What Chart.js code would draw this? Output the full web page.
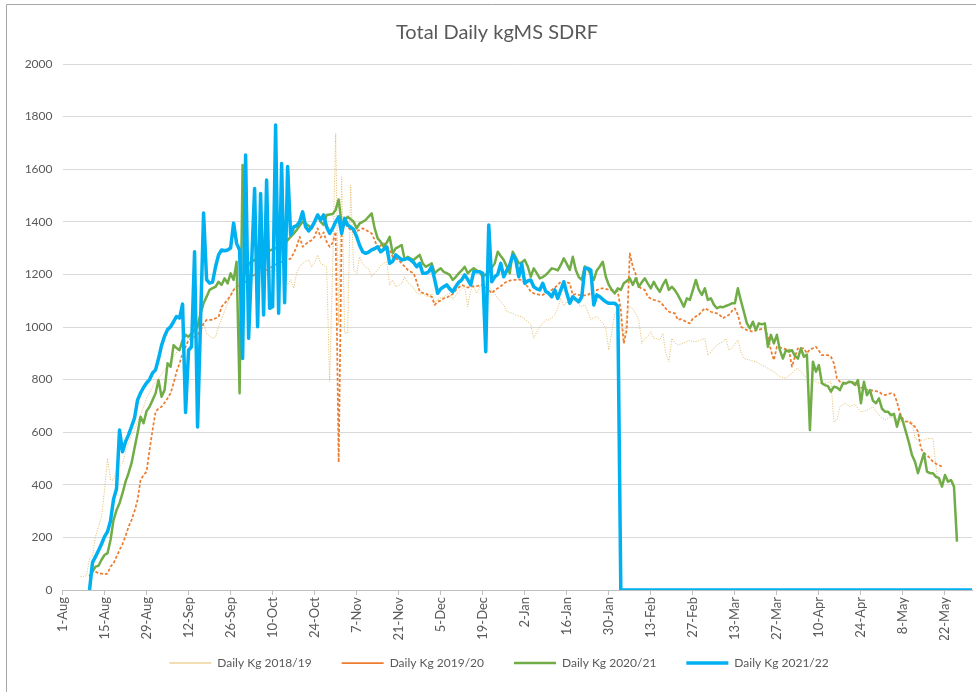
<!DOCTYPE html>
<html>
<head>
<meta charset="utf-8">
<title>Total Daily kgMS SDRF</title>
<script src="https://cdn.jsdelivr.net/npm/chart.js@4.4.1/dist/chart.umd.min.js"></script>
<style>
  html, body { margin: 0; padding: 0; background: #ffffff; }
  #wrap { width: 976px; height: 693px; }
</style>
</head>
<body>
<div id="wrap"><canvas id="kgChart" width="976" height="693"></canvas></div>
<script>
// x = days since 1-Aug, tick every 14 days
const tickLabels = ["1-Aug", "15-Aug", "29-Aug", "12-Sep", "26-Sep", "10-Oct", "24-Oct", "7-Nov", "21-Nov",
    "5-Dec", "19-Dec", "2-Jan", "16-Jan", "30-Jan", "13-Feb", "27-Feb", "13-Mar", "27-Mar", "10-Apr",
    "24-Apr", "8-May", "22-May"];
const seriesNames = ["Daily Kg 2018/19", "Daily Kg 2019/20", "Daily Kg 2020/21", "Daily Kg 2021/22"];

// --- 2018/19 ---
const days1819 = [6,7,8,9,10,11,12,13,14,15,16,17,18,19,20,21,22,23,24,25,26,27,28,29,30,31,33,36,39,42,45,47,48,50,51,52,54,56,58,60,63,66,69,72,74,75,76,77,78,79,80,81,82,83,84,85,86,87,88,89,90,91,92,93,94,95,96,97,98,99,100,101,102,103,104,105,106,107,108,109,110,111,112,113,114,115,116,117,118,119,120,121,122,123,124,125,126,127,128,129,130,131,132,133,134,135,136,137,138,139,140,141,142,143,144,145,146,147,148,149,150,151,152,153,154,155,156,157,158,159,160,161,162,163,164,165,166,167,168,169,170,171,172,173,174,175,176,177,178,179,180,181,182,184,185,186,187,188,189,190,191,192,193,194,195,196,197,198,199,200,201,202,203,204,205,206,207,208,209,210,211,212,213,214,215,216,217,218,219,220,221,222,223,224,225,226,227,228,229,230,231,232,233,234,235,236,237,238,239,240,241,242,243,244,245,246,247,248,249,250,251,252,253,254,255,256,257,258,259,260,261,262,263,264,265,266,267,268,269,270,271,272,273,274,275,276,277,278,279,280,281,282,283,284,285,286,287,288,289,290,291,292];
const kg1819 = [51,51,55,120,130,203,241,279,380,501,418,418,456,470,482,526,560,590,608,640,665,697,730,750,773,790,820,870,920,960,990,1014,975,957,963,1001,1060,1120,1160,1180,1200,1180,1210,1220,1190,1160,1180,1147,1204,1230,1242,1250,1255,1229,1245,1274,1242,1235,1229,792,1230,1736,1008,1571,977,976,1540,1217,1204,1267,1240,1229,1220,1191,1205,1217,1235,1242,1248,1160,1179,1153,1158,1165,1191,1170,1160,1147,1128,1125,1128,1118,1115,1128,1090,1105,1110,1115,1122,1128,1105,1120,1134,1145,1153,1077,1140,1153,1128,1150,1166,1160,1153,1140,1128,1110,1095,1084,1060,1055,1052,1045,1042,1039,1030,1020,1010,957,982,1001,1015,1027,1027,1035,1046,1071,1109,1080,1096,1085,1095,1103,1085,1077,1085,1058,1027,1035,1040,1027,1014,995,912,1052,1060,1014,938,1052,1077,1070,1050,1027,938,955,963,982,957,955,950,976,900,868,957,940,931,935,940,945,950,944,945,948,952,957,893,905,919,931,938,944,957,912,920,935,950,906,880,877,874,870,868,862,855,850,843,836,830,820,811,808,805,815,824,836,843,830,817,808,798,795,792,786,786,786,790,792,640,646,697,705,710,697,700,707,690,678,680,684,690,697,680,665,655,646,652,659,655,648,640,640,640,640,640,577,570,570,570,575,577,577,469,399];

// --- 2019/20 ---
const days1920 = [11,12,13,14,15,16,17,18,19,20,21,22,23,24,25,26,27,28,29,30,31,32,33,34,35,36,37,38,39,40,41,42,43,44,45,46,47,48,49,50,51,52,53,54,55,56,57,58,59,60,62,64,66,68,70,72,74,76,77,78,79,80,81,82,83,84,85,86,87,88,89,90,91,92,93,94,95,96,97,98,99,100,101,102,103,104,105,106,107,108,109,110,111,112,113,114,115,116,117,118,119,120,121,122,123,124,125,126,127,128,129,130,131,132,133,134,135,136,137,138,139,140,141,142,143,144,145,146,147,148,149,150,151,152,153,154,155,156,157,158,159,160,161,162,163,164,165,166,167,168,169,170,171,172,173,174,175,176,177,178,179,180,181,182,183,184,185,186,187,188,189,190,191,192,193,194,195,196,197,198,199,200,201,202,203,204,205,206,207,208,209,210,211,212,213,214,215,216,217,218,219,220,221,222,223,224,225,226,227,228,229,230,231,232,233,234,235,236,237,238,239,240,241,242,243,244,245,246,247,248,249,250,251,252,253,254,255,256,257,258,259,260,261,262,263,264,265,266,267,268,269,270,271,272,273,274,275,276,277,278,279,280,281,282,283,284,285,286,287,288,289,290,291,292,293];
const kg1920 = [70,63,62,60,62,89,101,127,152,175,205,240,266,300,342,418,437,450,532,608,678,690,697,712,729,748,786,830,862,900,925,950,957,963,970,985,1014,1027,1027,1027,1033,1039,1077,1090,1103,1120,1141,1153,1160,1165,1180,1200,1210,1217,1230,1245,1250,1260,1280,1305,1343,1305,1315,1324,1330,1343,1375,1340,1360,1324,1305,1320,1362,485,1356,1394,1380,1370,1362,1365,1369,1375,1370,1362,1356,1331,1299,1310,1318,1310,1290,1267,1260,1255,1242,1230,1217,1210,1204,1172,1134,1130,1128,1120,1115,1084,1096,1100,1109,1112,1118,1125,1140,1150,1160,1155,1150,1153,1155,1155,1158,1160,1150,1141,1128,1140,1147,1155,1165,1172,1176,1179,1179,1180,1179,1165,1153,1134,1128,1125,1122,1122,1130,1135,1141,1150,1160,1172,1168,1170,1166,1122,1125,1122,1120,1120,1122,1130,1141,1140,1145,1147,1145,1141,1140,1140,1135,1065,938,990,1280,1229,1200,1153,1145,1141,1115,1108,1103,1100,1096,1084,1070,1058,1055,1052,1027,1030,1025,1018,1014,1033,1040,1046,1060,1071,1065,1058,1055,1052,1045,1033,1040,1046,1060,1071,1046,1001,995,988,985,982,988,990,993,995,963,912,874,925,922,919,915,915,849,887,919,919,919,900,915,919,925,910,893,893,893,887,862,805,792,790,786,790,792,785,779,770,765,762,760,758,756,754,745,741,745,748,745,716,672,650,640,640,630,621,602,538,520,513,501,488,480,475,469];

// --- 2020/21 ---
const days2021 = [9,10,11,12,13,14,15,16,17,18,19,20,21,22,23,24,25,26,27,28,29,30,31,32,33,34,35,36,37,38,39,40,41,42,43,44,45,46,47,48,49,50,51,52,53,54,55,56,57,58,59,60,61,62,63,65,67,69,71,73,75,76,77,78,79,80,81,82,83,84,85,86,87,88,89,90,91,92,93,94,95,96,97,98,99,100,101,102,103,104,105,106,107,108,109,110,111,112,113,114,115,116,117,118,119,120,121,122,123,124,125,126,127,128,129,130,131,132,133,134,135,136,137,138,139,140,141,142,143,144,145,146,147,148,149,150,151,152,153,154,155,156,157,158,159,160,161,162,163,164,165,166,167,168,169,170,171,172,173,174,175,176,177,178,179,180,181,182,183,184,185,186,187,188,189,190,191,192,193,194,195,196,197,198,199,200,201,202,203,204,205,206,207,208,209,210,211,212,213,214,215,216,217,218,219,220,221,222,223,224,225,226,227,228,229,230,231,232,233,234,235,236,237,238,239,240,241,242,243,244,245,246,247,248,249,250,251,252,253,254,255,256,257,258,259,260,261,262,263,264,265,266,267,268,269,270,271,272,273,274,275,276,277,278,279,280,281,282,283,284,285,286,287,288,289,290,291,292,293,294,295,296,297,298];
const kg2021 = [51,70,89,92,115,133,140,190,266,304,330,368,412,444,482,540,596,659,634,680,697,722,748,798,735,760,862,849,931,920,912,950,970,963,976,990,1001,1052,1090,1115,1141,1148,1153,1172,1160,1185,1166,1204,1179,1248,748,1616,1200,1240,1250,1260,1280,1290,1300,1310,1330,1343,1355,1369,1385,1400,1394,1385,1375,1400,1426,1400,1388,1426,1428,1430,1445,1485,1388,1405,1419,1410,1400,1375,1394,1400,1407,1420,1432,1375,1337,1324,1305,1320,1343,1280,1299,1305,1312,1255,1267,1260,1255,1265,1274,1242,1229,1235,1242,1204,1215,1223,1210,1205,1198,1179,1190,1204,1215,1229,1204,1215,1223,1215,1210,1191,1200,1210,1225,1242,1286,1270,1255,1230,1204,1286,1265,1242,1245,1255,1230,1191,1223,1205,1185,1190,1198,1210,1223,1220,1215,1236,1261,1240,1217,1267,1217,1190,1179,1230,1220,1200,1179,1215,1230,1248,1191,1160,1141,1128,1147,1141,1166,1175,1185,1160,1185,1153,1170,1185,1165,1147,1172,1150,1134,1160,1179,1141,1153,1140,1122,1100,1077,1109,1103,1140,1179,1141,1122,1147,1103,1109,1085,1071,1077,1075,1080,1084,1090,1090,1147,1100,1058,1014,995,1020,988,1014,1010,1014,925,970,938,970,912,880,912,906,912,890,880,919,887,895,608,868,830,855,786,779,775,754,773,770,760,786,785,792,790,780,798,710,792,741,760,720,710,729,690,678,678,665,670,621,665,640,600,560,513,488,444,482,520,450,444,444,430,425,393,437,412,418,393,184];

// --- 2021/22 ---
const days2122 = [9,10,11,12,13,14,15,16,17,18,19,20,21,22,23,24,25,26,27,28,29,30,31,32,33,34,35,36,37,38,39,40,41,42,43,44,45,47,48,49,50,51,52,53,54,55,56,57,58,59,60,61,62,64,65,66,67,68,69,70,71,72,73,74,75,76,77,78,79,80,81,82,83,84,85,86,87,88,89,90,91,92,93,94,95,96,97,98,99,100,101,102,103,104,105,106,107,108,109,110,111,112,113,114,115,116,117,118,119,120,121,122,123,124,125,126,127,128,129,130,131,132,133,134,135,136,137,138,139,140,141,142,143,144,145,146,147,148,149,150,151,152,153,154,155,156,157,158,159,160,161,162,163,164,165,166,167,168,169,170,171,172,173,174,175,176,177,178,179,180,181,182,183,184,185,186,303];
const kg2122 = [0,105,127,150,175,203,222,262,345,385,608,526,564,590,621,654,722,749,770,787,800,825,837,880,930,965,990,1001,1020,1040,1034,1087,675,912,925,1286,620,1433,1180,1167,1171,1230,1274,1293,1290,1293,1300,1395,1318,1293,880,1654,957,1527,1001,1508,1046,1559,1071,1077,1768,1052,1622,1092,1610,1350,1381,1385,1400,1438,1381,1365,1380,1400,1426,1407,1426,1380,1356,1375,1400,1419,1356,1413,1388,1380,1370,1343,1310,1286,1280,1285,1293,1298,1305,1286,1295,1305,1242,1250,1274,1265,1255,1258,1261,1255,1245,1229,1242,1204,1204,1210,1229,1180,1128,1145,1153,1160,1145,1134,1153,1170,1179,1198,1180,1160,1210,1210,1210,1204,906,1388,1172,1191,1200,1242,1191,1215,1236,1274,1255,1191,1240,1166,1175,1179,1153,1145,1141,1166,1135,1128,1115,1141,1109,1140,1172,1128,1090,1115,1105,1096,1115,1223,1223,1217,1084,1122,1115,1105,1096,1090,1090,1090,1080,0,0];

const toPoints = (days, vals) => days.map((d, i) => ({ x: d, y: vals[i] }));

// white background, chart frame, and nudge title/legend into place
const frame = {
    id: "frame",
    afterLayout(chart) {
        const lg = chart.legend;
        if (lg) {
            lg.top -= 13;
            lg.left += 13;
            lg.right += 13;
        }
        const tb = chart.titleBlock;
        if (tb) {
            tb.left += 22;
        }
    },
    beforeDraw(chart) {
        const ctx = chart.ctx;
        ctx.save();
        ctx.fillStyle = "#ffffff";
        ctx.fillRect(0, 0, chart.width, chart.height);
        ctx.restore();
    },
    afterDraw(chart) {
        const ctx = chart.ctx;
        ctx.save();
        ctx.strokeStyle = "#a6a6a6";
        ctx.lineWidth = 1;
        ctx.beginPath();
        ctx.moveTo(6.5, 692);
        ctx.lineTo(6.5, 4.5);
        ctx.lineTo(976, 4.5);
        ctx.stroke();
        ctx.restore();
    }
};

const FONT = "Lato, 'Open Sans', sans-serif";

new Chart(document.getElementById("kgChart"), {
    type: "line",
    data: {
        datasets: [
            {
                label: seriesNames[0],
                data: toPoints(days1819, kg1819),
                borderColor: "#E3BD68",
                borderWidth: 1,
                borderDash: [1, 1.5],
                order: 4
            },
            {
                label: seriesNames[1],
                data: toPoints(days1920, kg1920),
                borderColor: "#ED7D31",
                borderWidth: 1.75,
                borderDash: [3, 2],
                order: 3
            },
            {
                label: seriesNames[2],
                data: toPoints(days2021, kg2021),
                borderColor: "#70AD47",
                borderWidth: 2.5,
                order: 2
            },
            {
                label: seriesNames[3],
                data: toPoints(days2122, kg2122),
                borderColor: "#00B0F0",
                borderWidth: 3.5,
                order: 1
            }
        ]
    },
    options: {
        responsive: false,
        animation: false,
        layout: { padding: { left: 0, right: 4, top: 0, bottom: 1 } },
        elements: {
            point: { radius: 0, hoverRadius: 0 },
            line: { tension: 0, fill: false, borderJoinStyle: "round", borderCapStyle: "butt" }
        },
        plugins: {
            title: {
                display: true,
                text: "Total Daily kgMS SDRF",
                color: "#595959",
                font: { family: FONT, size: 20, weight: "normal" },
                padding: { top: 21, bottom: 19 }
            },
            legend: {
                position: "bottom",
                maxHeight: 52,
                labels: {
                    color: "#595959",
                    font: { family: FONT, size: 12 },
                    usePointStyle: true,
                    pointStyle: "line",
                    pointStyleWidth: 42,
                    padding: 30,
                    sort: (a, b) => a.datasetIndex - b.datasetIndex
                }
            },
            tooltip: { enabled: false }
        },
        scales: {
            x: {
                type: "linear",
                min: 0,
                max: 303,
                afterBuildTicks: scale => {
                    scale.ticks = tickLabels.map((_, i) => ({ value: i * 14 }));
                },
                afterFit: scale => { scale.height = 50; },
                ticks: {
                    color: "#595959",
                    font: { family: FONT, size: 13 },
                    minRotation: 90,
                    maxRotation: 90,
                    autoSkip: false,
                    padding: 2,
                    callback: (value, index) => tickLabels[index]
                },
                grid: {
                    drawOnChartArea: false,
                    drawTicks: true,
                    tickLength: 5,
                    color: "#bfbfbf"
                },
                border: { display: true, color: "#bfbfbf" }
            },
            y: {
                min: 0,
                max: 2000,
                afterFit: scale => { scale.width = 62.5; },
                ticks: {
                    stepSize: 200,
                    color: "#595959",
                    font: { family: FONT, size: 12 },
                    padding: 10,
                    callback: value => String(value)
                },
                grid: { color: "#d9d9d9", drawTicks: false },
                border: { display: false }
            }
        }
    },
    plugins: [frame]
});
</script>
</body>
</html>
